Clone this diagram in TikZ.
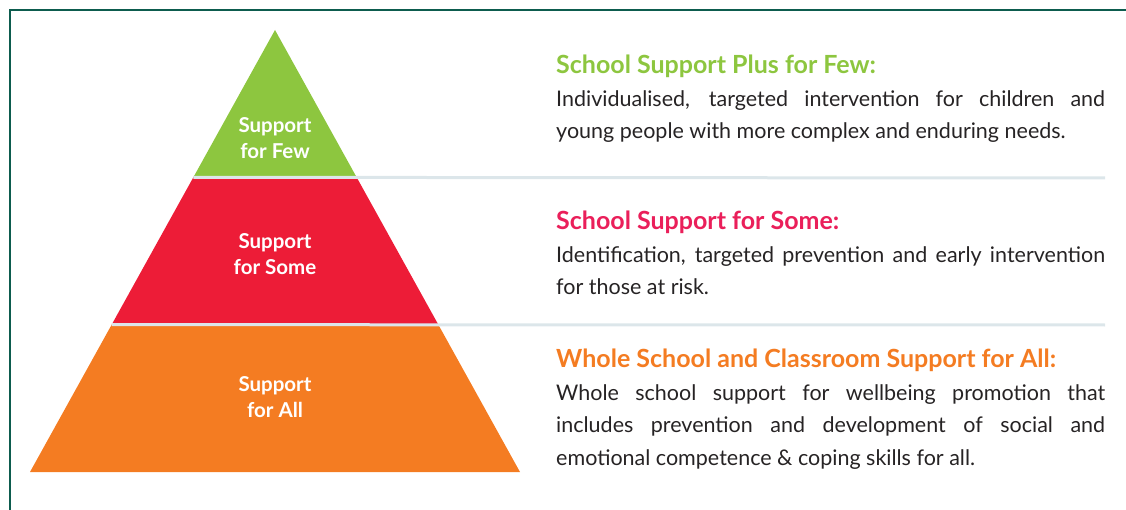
\documentclass[tikz,border=0pt]{standalone}
\usepackage{fontspec}
\setmainfont{Lato}
\usetikzlibrary{calc}
\definecolor{framegreen}{HTML}{0D5C4E}
\definecolor{fewgreen}{HTML}{8DC63F}
\definecolor{somered}{HTML}{ED1C37}
\definecolor{somehead}{HTML}{EA1F5A}
\definecolor{allorange}{HTML}{F47C22}
\definecolor{rulegray}{HTML}{DCE6EA}
\definecolor{bodytext}{HTML}{262324}
\newcommand{\tierhead}[2]{{\fontsize{25}{33}\selectfont\bfseries\color{#1}#2}}

\begin{document}
\begin{tikzpicture}[x=1pt,y=-1pt,
    tierlabel/.style={text=white,align=center,font=\fontsize{20.5}{26.5}\selectfont\bfseries},
    desc/.style={anchor=north west,inner sep=0pt,text width=549pt,align=justify,
      text=bodytext,font=\fontsize{21.5}{32.5}\selectfont}]
    \useasboundingbox (0,0) rectangle (1126,510);
    \draw[framegreen, line width=2.2pt] (10,512) -- (10,10) -- (1128,10);

    \coordinate (apex) at (275,30);
    \coordinate (bl) at (30,472);
    \coordinate (br) at (520,472);
    \coordinate (l1) at ($(apex)!1/3!(bl)$);
    \coordinate (r1) at ($(apex)!1/3!(br)$);
    \coordinate (l2) at ($(apex)!2/3!(bl)$);
    \coordinate (r2) at ($(apex)!2/3!(br)$);

    \fill[fewgreen] (apex) -- (r1) -- (l1) -- cycle;
    \fill[somered] (l1) -- (r1) -- (r2) -- (l2) -- cycle;
    \fill[allorange] (l2) -- (r2) -- (br) -- (bl) -- cycle;
    \draw[rulegray, line width=3pt] (l1) -- (1105,178);
    \draw[rulegray, line width=3pt] (l2) -- (1105,325);

    \node[tierlabel] (few) at (275,138) {Support\\for Few};
    \node[tierlabel] (some) at (275,254) {Support\\for Some};
    \node[tierlabel] (all) at (275,397) {Support\\for All};

    \node[desc] (fewtext) at (556,55) {\tierhead{fewgreen}{School Support Plus for Few:}\\
      Individualised, targeted intervention for children and\linebreak
      young people with more complex and enduring needs.};
    \node[desc] (sometext) at (556,211) {\tierhead{somehead}{School Support for Some:}\\
      Identification, targeted prevention and early intervention\linebreak
      for those at risk.};
    \node[desc] (alltext) at (556,349) {\tierhead{allorange}{Whole School and Classroom Support for All:}\\
      Whole school support for wellbeing promotion that\linebreak
      includes prevention and development of social and\linebreak
      emotional competence \& coping skills for all.};
\end{tikzpicture}
\end{document}
